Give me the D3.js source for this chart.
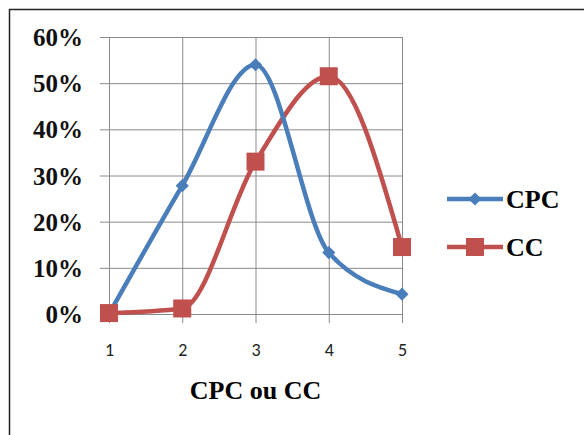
<!DOCTYPE html>
<html>
<head>
    <meta charset="utf-8">
    <title>CPC ou CC</title>
    <script src="https://d3js.org/d3.v7.min.js"></script>
    <style>
        body { margin: 0; background: #fff; }
    </style>
</head>
<body>
    <div id="chart"></div>

    <script>
        const categories = [1, 2, 3, 4, 5];
        const cpc = [0.0, 0.278, 0.54, 0.133, 0.043];
        const cc = [0.002, 0.012, 0.33, 0.515, 0.145];
        const yTicks = [0, 0.1, 0.2, 0.3, 0.4, 0.5, 0.6];
        const seriesNames = ["CPC", "CC"];

        const W = 584, H = 435;
        const margin = {top: 37, left: 109, right: 182, bottom: 121};
        const width = W - margin.left - margin.right;
        const height = H - margin.top - margin.bottom;

        const svg = d3.select("#chart").append("svg")
            .attr("width", W)
            .attr("height", H);

        // chart frame (only top and left edges visible)
        svg.append("rect")
            .attr("x", 9.5).attr("y", 9.5)
            .attr("width", 700).attr("height", 700)
            .attr("fill", "none")
            .attr("stroke", "#222")
            .attr("stroke-width", 1.5);

        const g = svg.append("g")
            .attr("transform", "translate(" + margin.left + "," + margin.top + ")");

        const x = d3.scalePoint()
            .domain(categories)
            .range([0, width]);

        const y = d3.scaleLinear()
            .domain([0, 0.6])
            .range([height, 0]);

        // horizontal grid + y ticks
        g.append("g")
            .call(d3.axisLeft(y).tickValues(yTicks).tickFormat(d3.format(".0%")).tickSizeOuter(0))
            .call(s => s.select(".domain").remove())
            .call(s => s.selectAll("line").attr("stroke", "#8a8a8a").attr("x1", -9).attr("x2", width))
            .call(s => s.selectAll("text")
                .attr("x", -26)
                .attr("dy", "0.34em")
                .style("font-family", "Liberation Serif, serif")
                .style("font-weight", "bold")
                .style("font-size", "25px")
                .attr("fill", "#111"));

        // vertical grid + x ticks
        g.append("g")
            .attr("transform", "translate(0," + height + ")")
            .call(d3.axisBottom(x).tickSizeOuter(0))
            .call(s => s.select(".domain").remove())
            .call(s => s.selectAll("line").attr("stroke", "#8a8a8a").attr("y1", -height).attr("y2", 9))
            .call(s => s.selectAll("text")
                .attr("y", 36)
                .attr("dy", "0.35em")
                .style("font-family", "Carlito, Liberation Sans, sans-serif")
                .style("font-size", "18px")
                .attr("fill", "#222"));

        const line = d3.line()
            .x((d, i) => x(categories[i]))
            .y(d => y(d))
            .curve(d3.curveMonotoneX);

        const colors = ["#4a7ebb", "#c0504d"];

        g.append("path")
            .datum(cc)
            .attr("fill", "none")
            .attr("stroke", colors[1])
            .attr("stroke-width", 4.5)
            .attr("d", line);

        g.append("path")
            .datum(cpc)
            .attr("fill", "none")
            .attr("stroke", colors[0])
            .attr("stroke-width", 4.5)
            .attr("d", line);

        const diamond = d3.symbol().type(d3.symbolDiamond2).size(110);

        g.selectAll(".mcpc")
            .data(cpc)
            .join("path")
            .attr("class", "mcpc")
            .attr("transform", (d, i) => "translate(" + x(categories[i]) + "," + y(d) + ")")
            .attr("d", diamond)
            .attr("fill", colors[0]);

        g.selectAll(".mcc")
            .data(cc)
            .join("rect")
            .attr("class", "mcc")
            .attr("x", (d, i) => x(categories[i]) - 9)
            .attr("y", d => y(d) - 9)
            .attr("width", 18)
            .attr("height", 18)
            .attr("fill", colors[1]);

        // axis title
        svg.append("text")
            .attr("x", margin.left + width / 2)
            .attr("y", 399)
            .attr("text-anchor", "middle")
            .style("font-family", "Liberation Serif, serif")
            .style("font-weight", "bold")
            .style("font-size", "26px")
            .text("CPC ou CC");

        // legend
        const legend = svg.append("g");
        seriesNames.forEach((name, i) => {
            const ly = 199 + i * 48;
            legend.append("line")
                .attr("x1", 447).attr("x2", 503)
                .attr("y1", ly).attr("y2", ly)
                .attr("stroke", colors[i])
                .attr("stroke-width", 4.5);
            if (i === 0) {
                legend.append("path")
                    .attr("transform", "translate(475," + ly + ")")
                    .attr("d", diamond)
                    .attr("fill", colors[0]);
            } else {
                legend.append("rect")
                    .attr("x", 466).attr("y", ly - 9)
                    .attr("width", 18).attr("height", 18)
                    .attr("fill", colors[1]);
            }
            legend.append("text")
                .attr("x", 506)
                .attr("y", ly + 9)
                .style("font-family", "Liberation Serif, serif")
                .style("font-weight", "bold")
                .style("font-size", "26px")
                .text(name);
        });
    </script>
</body>
</html>
